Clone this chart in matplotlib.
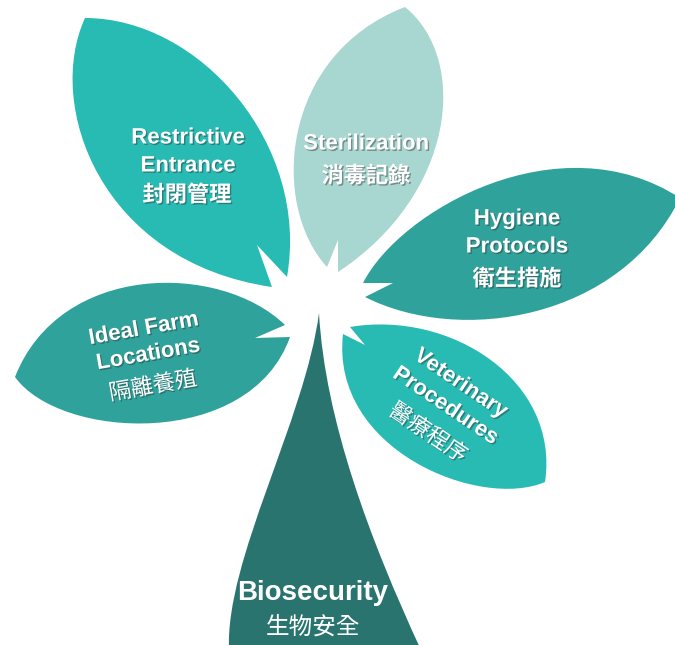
import math
import matplotlib
matplotlib.use("Agg")
import matplotlib.pyplot as plt
from matplotlib.path import Path
from matplotlib.patches import PathPatch
import matplotlib.patheffects as pe

# ---- contenu du diagramme ----
leaf_en = ["Restrictive\nEntrance", "Sterilization", "Hygiene\nProtocols",
           "Ideal Farm\nLocations", "Veterinary\nProcedures"]
leaf_zh = ["封閉管理", "消毒記錄", "衛生措施", "隔離養殖", "醫療程序"]
leaf_colors = ["#27BBB4", "#A8D6D1", "#2FA29B", "#2FA29B", "#27BBB4"]
stem_en = "Biosecurity"
stem_zh = "生物安全"
stem_color = "#2A7470"

# ---- géométrie (pixels, origine en haut à gauche) ----
# prong A, c1, c2, pointe, c3, c4, prong B, creux de l'encoche
leaf_shapes = [
    [(272, 287), (100, 262), (45, 105), (85, 18), (200, 18), (310, 145), (287, 277), (257, 245)],
    [(327, 267), (270, 205), (280, 55), (405, 7), (470, 60), (455, 195), (338, 272), (338, 240)],
    [(363, 283), (400, 210), (560, 120), (680, 198), (620, 320), (460, 345), (365, 297), (393, 283)],
    [(285, 325), (220, 262), (60, 262), (15, 377), (60, 440), (250, 450), (290, 337), (255, 338)],
    [(350, 327), (450, 310), (560, 380), (545, 482), (480, 510), (330, 450), (343, 334), (365, 345)],
]
stem_shape = [(319, 313), (305, 420), (225, 560), (229, 650), (421, 650), (370, 540), (325, 420), (319, 313)]

# position du texte : (x, y, rotation, interligne)
text_pos = [
    (188, 152, 0, 28),
    (366, 144, 0, 0),
    (517, 233, 0, 28),
    (146, 342, 10, 26),
    (453, 395, -34, 27),
]
zh_pos = [(187, 195, 0), (366, 176, 0), (517, 279, 0), (153, 386, 10), (428, 433, -34)]
zh_weight = ["bold", "bold", "bold", "normal", "normal"]

fig = plt.figure(figsize=(6.75, 6.45), dpi=100)
ax = fig.add_axes([0, 0, 1, 1])
ax.set_xlim(0, 675)
ax.set_ylim(645, 0)
ax.axis("off")

shadow = [pe.withSimplePatchShadow(offset=(1, -1), shadow_rgbFace="#333333", alpha=0.45)]

# tige
codes = [Path.MOVETO, Path.CURVE4, Path.CURVE4, Path.CURVE4,
         Path.LINETO, Path.CURVE4, Path.CURVE4, Path.CURVE4]
ax.add_patch(PathPatch(Path(stem_shape, codes), facecolor=stem_color, edgecolor="none", zorder=1))

# feuilles
leaf_codes = [Path.MOVETO, Path.CURVE4, Path.CURVE4, Path.CURVE4,
              Path.CURVE4, Path.CURVE4, Path.CURVE4, Path.LINETO, Path.CLOSEPOLY]
for pts, col in zip(leaf_shapes, leaf_colors):
    verts = pts + [pts[0]]
    ax.add_patch(PathPatch(Path(verts, leaf_codes), facecolor=col, edgecolor="none", zorder=2))

# textes
for i in range(len(leaf_en)):
    x, y, rot, gap = text_pos[i]
    lines = leaf_en[i].split("\n")
    a = math.radians(rot)
    for k, line in enumerate(lines):
        off = (k - (len(lines) - 1) / 2) * gap
        # décalage perpendiculaire au sens du texte (axe y inversé)
        dx = math.sin(a) * off
        dy = math.cos(a) * off
        ax.text(x + dx, y + dy, line, ha="center", va="center", rotation=rot,
                rotation_mode="anchor", fontsize=16, fontweight="bold",
                family="Liberation Sans", color="white", path_effects=shadow, zorder=5)
    zx, zy, zr = zh_pos[i]
    ax.text(zx, zy, leaf_zh[i], ha="center", va="center", rotation=zr,
            rotation_mode="anchor", fontsize=16, fontweight=zh_weight[i],
            family=["Noto Sans CJK TC", "DejaVu Sans"], color="white",
            path_effects=shadow, zorder=5)

ax.text(313, 593, stem_en, ha="center", va="center", fontsize=20, fontweight="bold",
        family="Liberation Sans", color="white", zorder=5)
ax.text(313, 627, stem_zh, ha="center", va="center", fontsize=17,
        family=["Noto Sans CJK TC", "DejaVu Sans"], color="white", zorder=5)

fig.savefig("out.png", dpi=100)
